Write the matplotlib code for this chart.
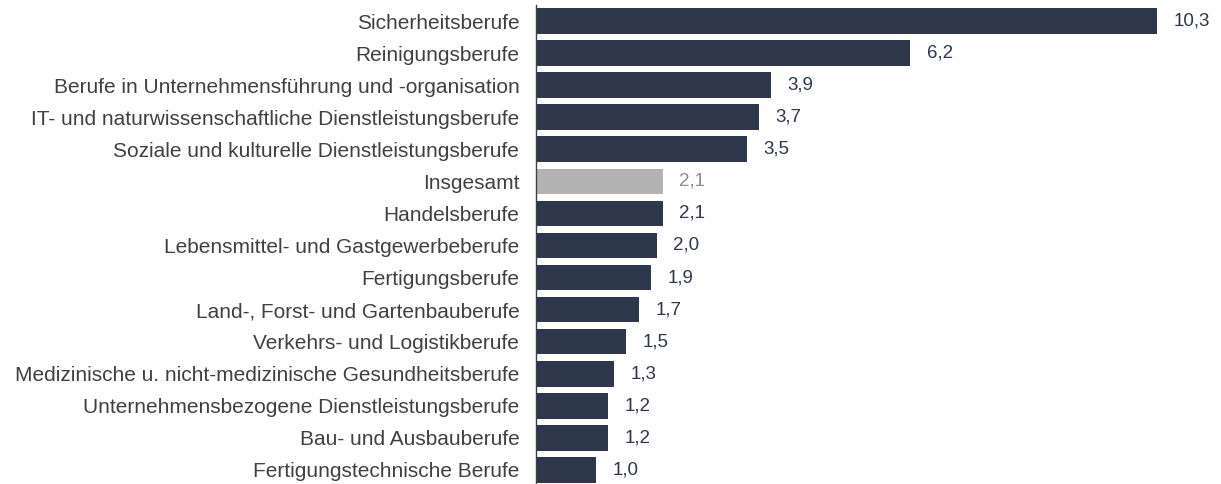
import matplotlib.pyplot as plt

categories = [
    'Sicherheitsberufe',
    'Reinigungsberufe',
    'Berufe in Unternehmensführung und -organisation',
    'IT- und naturwissenschaftliche Dienstleistungsberufe',
    'Soziale und kulturelle Dienstleistungsberufe',
    'Insgesamt',
    'Handelsberufe',
    'Lebensmittel- und Gastgewerbeberufe',
    'Fertigungsberufe',
    'Land-, Forst- und Gartenbauberufe',
    'Verkehrs- und Logistikberufe',
    'Medizinische u. nicht-medizinische Gesundheitsberufe',
    'Unternehmensbezogene Dienstleistungsberufe',
    'Bau- und Ausbauberufe',
    'Fertigungstechnische Berufe',
]
values = [10.3, 6.2, 3.9, 3.7, 3.5, 2.1, 2.1, 2.0, 1.9, 1.7, 1.5, 1.3, 1.2, 1.2, 1.0]
highlight = 'Insgesamt'

navy = '#2e374c'
grey_bar = '#b3b3b3'

plt.rcParams['font.family'] = ['Liberation Sans', 'DejaVu Sans']

fig = plt.figure(figsize=(12.21, 4.84), dpi=100)
ax = fig.add_axes([536 / 1221, 0, 1 - 536 / 1221, 479 / 484])

ypos = list(range(len(categories)))
colors = [grey_bar if c == highlight else navy for c in categories]
ax.barh(ypos, values, height=0.8, color=colors)

for y, v, c in zip(ypos, values, categories):
    tcol = '#8c8c8c' if c == highlight else navy
    ax.annotate(f'{v:.1f}'.replace('.', ','), (v, y), xytext=(12, 0),
                textcoords='offset points', va='center', ha='left',
                fontsize=13.5, color=tcol)

ax.set_yticks(ypos)
ax.set_yticklabels(categories, fontsize=15, color='#404040')
ax.tick_params(axis='y', length=0, pad=12)
ax.set_xticks([])
ax.set_xlim(0, 11.36)
ax.set_ylim(14.44, -0.5)
for s in ['top', 'right', 'bottom']:
    ax.spines[s].set_visible(False)
ax.spines['left'].set_color('#404040')
ax.spines['left'].set_linewidth(1.0)

fig.savefig('out.png', dpi=100)
